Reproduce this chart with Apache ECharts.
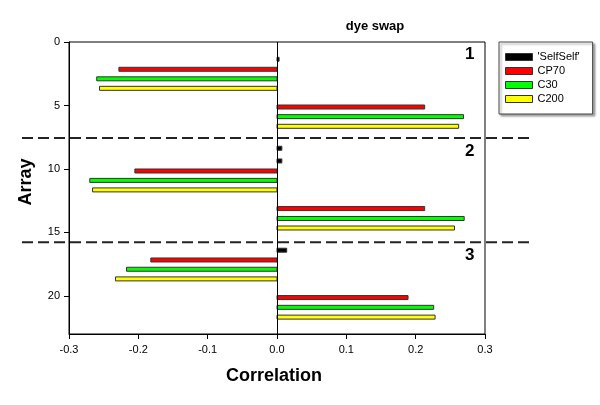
<!DOCTYPE html>
<html>
<head>
<meta charset="utf-8">
<script src="https://cdn.jsdelivr.net/npm/echarts@6/dist/echarts.min.js"></script>
<style>html,body{margin:0;padding:0;background:#fff}#c{width:600px;height:405px}</style>
</head>
<body>
<div id="c"></div>
<script>
// ---- data ----
const seriesNames = ["'SelfSelf'", 'CP70', 'C30', 'C200'];
const selfY   = [1.36, 8.37, 9.37, 16.4];
const selfVal = [0.003, 0.007, 0.007, 0.014];
const cp70Y   = [2.15, 5.12, 10.16, 13.12, 17.17, 20.13];
const cp70Val = [-0.228, 0.213, -0.205, 0.213, -0.182, 0.189];
const c30Y    = [2.9, 5.88, 10.9, 13.9, 17.9, 20.9];
const c30Val  = [-0.260, 0.269, -0.270, 0.270, -0.217, 0.226];
const c200Y   = [3.65, 6.64, 11.65, 14.65, 18.66, 21.67];
const c200Val = [-0.256, 0.262, -0.266, 0.256, -0.233, 0.228];
const dividerY = [7.56, 15.77];
const panelLabels = ['1', '2', '3'];
const panelY = [1.0, 8.6, 16.8];
const panelX = 0.278;
const xTicks = [-0.3, -0.2, -0.1, 0.0, 0.1, 0.2, 0.3];
const yTicks = [0, 5, 10, 15, 20];

const colors = ['#000000', '#ff0000', '#00ff00', '#ffff00'];
const FONT = "'Liberation Sans', Arial, sans-serif";

function pairs(vals, ys) { return vals.map((v, i) => [v, ys[i]]); }
const dataSets = [pairs(selfVal, selfY), pairs(cp70Val, cp70Y), pairs(c30Val, c30Y), pairs(c200Val, c200Y)];

const chart = echarts.init(document.getElementById('c'), null, {renderer: 'canvas'});

function renderBar(params, api) {
  const x = api.value(0), y = api.value(1);
  const p0 = api.coord([0, y]);
  const p1 = api.coord([x, y]);
  const h = 4;
  return {
    type: 'rect',
    shape: {x: Math.min(p0[0], p1[0]), y: p0[1] - h / 2, width: Math.abs(p1[0] - p0[0]), height: h},
    style: {fill: colors[params.seriesIndex], stroke: '#333', lineWidth: 1}
  };
}

const series = seriesNames.map((name, i) => ({
  name: name,
  type: 'custom',
  renderItem: renderBar,
  data: dataSets[i],
  itemStyle: {color: colors[i], borderColor: '#333', borderWidth: 1},
  encode: {x: 0, y: 1},
  silent: true,
  z: 3
}));
series[0].markLine = {
  silent: true, symbol: 'none', animation: false,
  label: {show: false},
  lineStyle: {color: '#000', width: 1, type: 'solid'},
  data: [{xAxis: 0}]
};

chart.setOption({
  animation: false,
  grid: {left: 69, right: 115, top: 42, bottom: 71, show: true, borderColor: '#000', borderWidth: 1, backgroundColor: 'transparent'},
  legend: {
    orient: 'vertical', left: 499, top: 42,
    padding: [9, 13, 9, 6],
    itemWidth: 27, itemHeight: 7, itemGap: 2,
    icon: 'rect',
    borderColor: '#444', borderWidth: 1, backgroundColor: '#fff',
    shadowColor: 'rgba(0,0,0,0.35)', shadowBlur: 2, shadowOffsetX: 2, shadowOffsetY: 2,
    textStyle: {fontFamily: FONT, fontSize: 11, color: '#000', lineHeight: 12},
    data: seriesNames.map((n, i) => ({name: n, itemStyle: {color: colors[i], borderColor: '#333', borderWidth: 1}}))
  },
  xAxis: {
    type: 'value', min: xTicks[0], max: xTicks[xTicks.length - 1], interval: 0.1,
    axisLine: {onZero: false, lineStyle: {color: '#000', width: 1}},
    axisTick: {show: true, inside: false, length: 5, lineStyle: {color: '#000'}},
    splitLine: {show: false},
    axisLabel: {fontFamily: FONT, fontSize: 11, color: '#000', margin: 10, formatter: v => v.toFixed(1)}
  },
  yAxis: {
    type: 'value', inverse: true, min: 0, max: 23, interval: 5,
    axisLine: {show: true, onZero: false, lineStyle: {color: '#000', width: 1}},
    axisTick: {show: true, inside: false, length: 5, lineStyle: {color: '#000'}, customValues: yTicks},
    splitLine: {show: false},
    axisLabel: {fontFamily: FONT, fontSize: 11, color: '#000', margin: 9, customValues: yTicks,
      formatter: v => String(v)}
  },
  series: series
});

// overlays positioned through the chart's own scales
const gfx = [];
dividerY.forEach(d => {
  const py = chart.convertToPixel({yAxisIndex: 0}, d);
  gfx.push({type: 'line', silent: true, z: 10,
    shape: {x1: 22, y1: py, x2: 529, y2: py},
    style: {stroke: '#222', lineWidth: 2, lineDash: [11, 5]}});
});
panelLabels.forEach((t, i) => {
  const p = chart.convertToPixel({gridIndex: 0}, [panelX, panelY[i]]);
  gfx.push({type: 'text', silent: true, z: 10, x: p[0], y: p[1],
    style: {text: t, fontFamily: FONT, fontWeight: 'bold', fontSize: 17, fill: '#000', align: 'center', verticalAlign: 'middle'}});
});
gfx.push({type: 'text', silent: true, x: 375, y: 26,
  style: {text: 'dye swap', fontFamily: FONT, fontWeight: 'bold', fontSize: 13, fill: '#000', align: 'center', verticalAlign: 'middle'}});
gfx.push({type: 'text', silent: true, x: 274, y: 376,
  style: {text: 'Correlation', fontFamily: FONT, fontWeight: 'bold', fontSize: 18, fill: '#000', align: 'center', verticalAlign: 'middle'}});
gfx.push({type: 'text', silent: true, x: 26, y: 182, rotation: Math.PI / 2,
  style: {text: 'Array', fontFamily: FONT, fontWeight: 'bold', fontSize: 18, fill: '#000', align: 'center', verticalAlign: 'middle'}});
chart.setOption({graphic: gfx});
</script>
</body>
</html>
